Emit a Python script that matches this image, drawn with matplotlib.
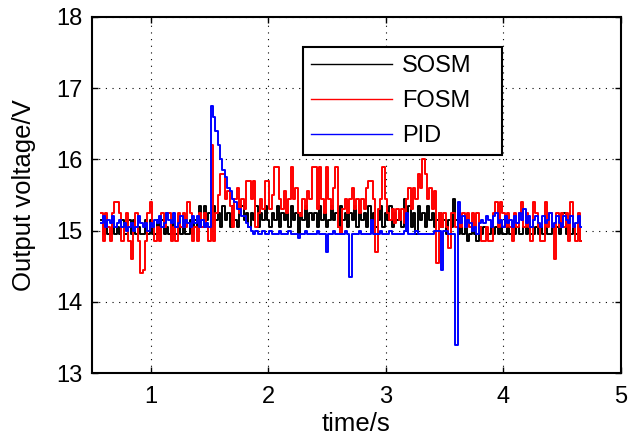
import numpy as np
import matplotlib
matplotlib.use("Agg")
import matplotlib.pyplot as plt

plt.rcParams['font.family'] = ['Liberation Sans', 'DejaVu Sans']

# ==============================
# data (read off the reference, sampled every 0.02 s from t = 0.58 s)
# ==============================
t_start = 0.58
t_step = 0.02

sosm = [
    15.15, 14.95, 15.15, 14.95, 14.95, 15.15, 14.95, 15.05, 14.95, 15.15,
    14.95, 14.95, 15.15, 14.95, 15.15, 14.95, 15.05, 14.95, 14.95, 15.15,
    14.95, 15.15, 14.95, 14.95, 15.15, 14.95, 15.15, 14.95, 15.05, 14.95,
    15.15, 14.95, 14.95, 15.15, 14.95, 15.15, 14.95, 14.95, 15.15, 14.95,
    15.15, 15.05, 15.35, 15.05, 15.35, 15.15, 15.25,
    15.05, 15.35, 15.15, 15.25, 15.05, 15.35, 15.15, 15.25, 15.05, 15.35,
    15.15, 15.05, 15.25, 15.35, 15.15, 15.25,
    15.05, 15.25, 15.15, 15.35, 15.05, 15.25, 15.15,
    15.35, 15.15, 15.05, 15.25, 15.15, 15.35, 15.05, 15.25, 15.15, 15.25,
    15.05, 15.35, 15.15, 15.25, 14.95, 15.25, 15.15, 15.35, 15.05, 15.25,
    15.15, 15.25, 15.05, 15.35, 15.15, 15.25, 15.05, 15.15, 15.35, 15.15,
    15.25, 15.05, 15.35, 15.15, 15.25, 15.05, 15.25, 15.15, 15.35, 15.05,
    15.25, 15.15, 15.25, 15.05, 15.35, 15.15, 15.25, 15.05, 15.15, 15.35,
    15.05, 15.25, 15.15, 15.35, 15.05, 15.25, 15.15, 15.25, 15.05, 15.45,
    15.15, 15.35, 15.05, 15.25, 14.95, 15.35, 15.15, 15.25, 15.05, 15.35,
    15.15, 15.25, 15.05, 15.15, 15.25, 15.05, 15.15, 14.95, 15.15, 15.05,
    15.45, 15.15, 14.95, 15.05, 14.95, 15.05, 14.85, 14.95, 15.05, 14.95,
    14.85, 15.05, 14.95, 15.05, 14.95, 14.95, 15.05, 14.95, 15.05, 14.95,
    15.05, 14.95, 14.95, 15.05, 14.95, 15.05, 14.95, 15.05, 14.95, 14.95,
    15.05, 14.95, 15.05, 14.95, 14.95, 15.05, 14.95, 15.05, 14.95, 15.05,
    14.95, 14.95, 15.05, 14.95, 15.05, 14.95, 15.05, 15.25, 14.95, 15.05,
    14.95, 15.05, 14.95, 15.05, 14.85,
]

fosm = [
    15.25, 14.85, 15.25, 15.05, 14.85, 15.25, 15.4, 15.4, 15.25, 14.85,
    15.05, 15.25, 14.85, 14.6, 15.05, 15.25, 14.85, 14.4, 14.45, 14.85,
    15.25, 15.4, 15.05, 14.85, 15.05, 14.85, 15.25, 15.05, 15.25, 15.25,
    14.85, 15.05, 14.85, 15.25, 15.05, 15.25, 15.05, 15.4, 15.25, 14.85,
    15.05, 14.85, 15.25, 15.05, 15.25, 15.05, 14.85,
    16.2, 14.85, 15.25, 15.5, 15.8, 15.8, 15.45, 15.55, 15.35, 15.05,
    15.45, 15.6, 15.25, 15.45, 15.3, 15.7,
    15.7, 15.45, 15.7, 15.05, 15.25, 15.45, 15.3,
    15.7, 15.7, 15.3, 15.5, 15.9, 15.9, 15.45, 15.3, 15.55, 15.25,
    15.45, 15.9, 15.45, 15.6, 15.25, 15.2, 15.45, 15.3, 15.55, 15.45,
    15.9, 15.9, 15.3, 15.9, 15.45, 15.25, 15.9, 15.45, 15.3, 15.6,
    15.9, 15.05, 14.95, 15.3, 15.45, 15.25, 15.45, 15.6, 15.3, 15.45,
    15.25, 15.45, 15.3, 15.6, 15.7, 15.7, 15.45, 14.7, 15.3, 15.45,
    15.9, 15.45, 15.25, 15.15, 15.3, 15.1, 15.3, 15.15, 15.3, 15.1,
    15.45, 15.6, 15.3, 15.6, 15.45, 15.8, 15.6, 16.0, 15.8, 15.45,
    15.6, 15.3, 15.55, 14.55, 15.25, 15.05, 15.25, 15.05, 14.75, 15.25,
    15.25, 15.05, 15.25, 15.05, 15.25, 15.05, 15.25, 15.05, 15.25, 15.05,
    15.25, 15.05, 14.85, 14.85, 15.05, 14.85, 14.85, 15.25, 15.4, 15.05,
    15.4, 15.25, 15.05, 15.25, 15.05, 14.85, 15.25, 15.05, 15.25, 15.4,
    15.05, 15.25, 15.05, 14.85, 15.4, 15.25, 15.05, 14.85, 14.85, 15.4,
    15.05, 15.25, 15.05, 14.6, 15.25, 15.05, 15.25, 15.05, 15.25, 14.85,
    15.4, 15.05, 14.85, 15.25, 14.85,
]

pid = [
    15.1, 15.2, 15.05, 15.15, 15.1, 15.2, 15.05, 15.1, 15.15, 15.05,
    15.1, 15.0, 15.05, 15.1, 15.0, 15.05, 15.2, 15.1, 15.05, 15.1,
    15.0, 15.1, 15.05, 15.15, 15.1, 15.2, 15.05, 15.1, 15.25, 15.15,
    15.1, 15.25, 15.05, 15.1, 15.2, 15.05, 15.15, 15.1, 15.05, 15.2,
    15.1, 15.2, 15.05, 15.15, 15.05, 15.1, 15.05,
    16.75, 16.6, 16.4, 16.2, 16.0, 15.85, 15.75, 15.6, 15.55, 15.45,
    15.4, 15.3, 15.3, 15.2, 15.2, 15.1,
    15.05, 15.0, 14.95, 15.0, 14.95, 14.95, 15.0,
    14.95, 14.95, 15.0, 14.95, 14.95, 14.95, 15.0, 14.95, 14.95, 14.95,
    15.0, 14.95, 14.95, 14.95, 14.9, 14.95, 14.95, 15.0, 14.95, 14.95,
    14.95, 14.95, 15.0, 14.95, 14.95, 14.95, 14.7, 14.95, 14.95, 15.0,
    14.95, 14.95, 14.95, 14.95, 15.0, 14.95, 14.35, 14.95, 14.95, 14.95,
    15.0, 14.95, 14.95, 14.95, 14.95, 15.15, 14.95, 14.95, 14.95, 15.0,
    14.95, 14.95, 14.95, 15.0, 14.95, 14.95, 14.95, 14.95, 14.95, 15.0,
    15.25, 14.95, 14.95, 14.95, 15.0, 14.95, 14.95, 14.95, 14.95, 14.95,
    14.95, 14.95, 15.0, 15.0, 15.0, 14.45, 15.0, 15.0, 14.95, 14.95,
    14.95, 13.4, 15.4, 15.1, 15.2, 15.05, 15.15, 15.1, 15.0, 15.05,
    14.95, 15.1, 15.15, 15.1, 15.2, 15.15, 15.05, 15.2, 15.25, 15.1,
    15.15, 15.05, 15.2, 15.1, 15.15, 15.05, 15.2, 15.1, 15.25, 15.15,
    15.3, 15.1, 15.2, 15.05, 15.15, 15.2, 15.1, 15.05, 15.2, 15.1,
    15.15, 15.25, 15.05, 15.1, 15.2, 15.1, 15.05, 15.2, 15.15, 15.1,
    15.2, 15.05, 15.1, 15.2, 15.05,
]

series = [("SOSM", sosm, "black"), ("FOSM", fosm, "red"), ("PID", pid, "blue")]

# ==============================
# figure
# ==============================
fig = plt.figure(figsize=(6.41, 4.38), dpi=100)
ax = fig.add_axes([0.1435, 0.1484, 0.8253, 0.8128])

for name, vals, col in series:
    t = t_start + t_step * np.arange(len(vals))
    ax.plot(t, vals, color=col, linewidth=1.4, drawstyle='steps-mid', label=name)

ax.set_xlim(0.5, 5)
ax.set_ylim(13, 18)
ax.set_xticks([1, 2, 3, 4, 5])
ax.set_yticks([13, 14, 15, 16, 17, 18])
ax.set_xlabel("time/s", fontsize=18.5, labelpad=3)
ax.set_ylabel("Output voltage/V", fontsize=18.5, labelpad=14)
ax.tick_params(axis='both', direction='in', length=4, width=1, labelsize=17,
               top=True, right=True)
ax.tick_params(axis='x', pad=9)
ax.tick_params(axis='y', pad=7)
ax.grid(True, color='black', linestyle=(0, (1, 5)), linewidth=0.8)
for sp in ax.spines.values():
    sp.set_linewidth(1.5)

# legend box spans 303..502 px wide, top at 45 px (axes 92..621 x 17..373)
leg = ax.legend(loc='upper left', bbox_to_anchor=(0.399, 0.5, 0.376, 0.415),
                mode='expand', fontsize=17,
                frameon=True, fancybox=False, edgecolor='black', framealpha=1,
                handlelength=3.45, handletextpad=0.4, labelspacing=0.55,
                borderpad=0.33, borderaxespad=0)
leg.get_frame().set_linewidth(1.5)
for ln in leg.get_lines():
    ln.set_linewidth(1.0)

fig.savefig("out.png", dpi=100)
